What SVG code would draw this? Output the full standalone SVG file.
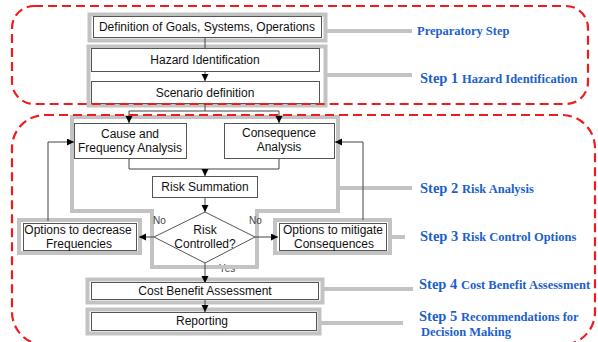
<svg xmlns="http://www.w3.org/2000/svg" width="598" height="342" viewBox="0 0 598 342">
<defs>
<style>
.box{fill:#fff;stroke:#555;stroke-width:1}
.frame{fill:none;stroke:#c3c3c3;stroke-width:4}
.gline{stroke:#c3c3c3;stroke-width:4}
.lbl{font-family:"Liberation Sans",Arial,sans-serif;font-size:12px;fill:#111;text-anchor:middle}
.small{font-family:"Liberation Sans",Arial,sans-serif;font-size:10px;fill:#444}
.step{font-family:"Liberation Serif","Times New Roman",serif;font-weight:bold;fill:#1d5fcc;font-size:12.5px}
.big{font-size:14.5px}
.conn{stroke:#444;stroke-width:1;fill:none}
.arr{marker-end:url(#ah)}
.zone{fill:none;stroke:#f01c1c;stroke-width:2.2;stroke-dasharray:9,5}
</style>
<marker id="ah" markerUnits="userSpaceOnUse" markerWidth="8" markerHeight="8" refX="7" refY="3.5" orient="auto">
<path d="M0,0 L7,3.5 L0,7 z" fill="#000"/>
</marker>
</defs>
<rect width="598" height="342" fill="#fff"/>

<text class="small" x="219" y="272" fill="#666">Yes</text>

<g id="step-frames">
<rect class="frame" x="89.5" y="14.5" width="236" height="26"/>
<line class="gline" x1="327" y1="31" x2="412" y2="31"/>
<rect class="frame" x="88.5" y="46.5" width="237" height="59"/>
<line class="gline" x1="327" y1="75" x2="412" y2="75"/>
<path class="frame" d="M72,117 H338 V211 H257 V267 H152 V211 H72 Z"/>
<line class="gline" x1="338" y1="188" x2="412" y2="188"/>
<rect class="frame" x="19" y="220" width="121" height="33"/>
<rect class="frame" x="275" y="220" width="115" height="33"/>
<line class="gline" x1="392" y1="237" x2="405" y2="237"/>
<rect class="frame" x="87.5" y="279.5" width="235" height="23"/>
<line class="gline" x1="323" y1="289" x2="413" y2="289"/>
<rect class="frame" x="87.5" y="309.5" width="232" height="24"/>
<line class="gline" x1="320" y1="323" x2="403" y2="323"/>
</g>

<g id="connectors">
<line class="conn" x1="205" y1="38" x2="205" y2="48"/>
<line class="conn arr" x1="205" y1="72" x2="205" y2="81"/>
<path class="conn" d="M205,104 V111"/>
<path class="conn arr" d="M205,111 H129 V123"/>
<path class="conn arr" d="M205,111 H279 V123"/>
<path class="conn" d="M129,159 V169 H279 V159"/>
<path class="conn arr" d="M205,169 V176"/>
<path class="conn arr" d="M205,198 V212"/>
<path class="conn arr" d="M154,237 H139"/>
<path class="conn arr" d="M255,237 H278"/>
<path class="conn arr" d="M205,263 V283"/>
<path class="conn arr" d="M205,300 V312"/>
<path class="conn arr" d="M48,221 V142 H74"/>
<path class="conn arr" d="M363,220 V142 H335"/>
<text class="small" x="153" y="224">No</text>
<text class="small" x="249" y="224">No</text>
</g>

<g id="n-definition">
<rect class="box" x="93.5" y="16.5" width="228" height="21"/>
<text class="lbl" x="207" y="31">Definition of Goals, Systems, Operations</text>
</g>
<g id="n-hazard">
<rect class="box" x="91.5" y="48.5" width="228" height="23"/>
<text class="lbl" x="205" y="64">Hazard Identification</text>
</g>
<g id="n-scenario">
<rect class="box" x="91.5" y="81.5" width="228" height="22"/>
<text class="lbl" x="205" y="97">Scenario definition</text>
</g>
<g id="n-cause">
<rect class="box" x="74.5" y="123.5" width="112" height="35"/>
<text class="lbl" x="130" y="138">Cause and</text>
<text class="lbl" x="130" y="152">Frequency Analysis</text>
</g>
<g id="n-consequence">
<rect class="box" x="224.5" y="123.5" width="110" height="35"/>
<text class="lbl" x="279" y="137">Consequence</text>
<text class="lbl" x="279" y="151">Analysis</text>
</g>
<g id="n-summation">
<rect class="box" x="152.5" y="176.5" width="105" height="21"/>
<text class="lbl" x="205" y="191">Risk Summation</text>
</g>
<g id="n-decision">
<polygon points="205,212 255,237 205,263 154,237" fill="#fff" stroke="#555" stroke-width="1"/>
<text class="lbl" x="205" y="234">Risk</text>
<text class="lbl" x="205" y="248">Controlled?</text>
</g>
<g id="n-frequencies">
<rect class="box" x="23.5" y="223.5" width="113" height="27"/>
<text class="lbl" x="78" y="234">Options to decrease</text>
<text class="lbl" x="79" y="248">Frequencies</text>
</g>
<g id="n-consequences">
<rect class="box" x="279.5" y="223.5" width="107" height="27"/>
<text class="lbl" x="333" y="234">Options to mitigate</text>
<text class="lbl" x="334" y="248">Consequences</text>
</g>
<g id="n-cba">
<rect class="box" x="91.5" y="282.5" width="227" height="17"/>
<text class="lbl" x="205" y="295">Cost Benefit Assessment</text>
</g>
<g id="n-reporting">
<rect class="box" x="91.5" y="312.5" width="225" height="18"/>
<text class="lbl" x="202" y="325">Reporting</text>
</g>

<g id="step-labels">
<text class="step" x="417" y="35">Preparatory Step</text>
<text class="step" x="420" y="83"><tspan class="big">Step 1 </tspan>Hazard Identification</text>
<text class="step" x="420" y="193"><tspan class="big">Step 2 </tspan>Risk Analysis</text>
<text class="step" x="420" y="241"><tspan class="big">Step 3 </tspan>Risk Control Options</text>
<text class="step" x="419" y="289"><tspan class="big">Step 4 </tspan>Cost Benefit Assessment</text>
<text class="step" x="419" y="321"><tspan class="big">Step 5 </tspan>Recommendations for</text>
<text class="step" x="421" y="336">Decision Making</text>
</g>

<g id="zones">
<rect class="zone" x="12" y="6" width="576" height="98" rx="22"/>
<rect class="zone" x="12" y="115" width="583" height="230" rx="33"/>
</g>
</svg>
